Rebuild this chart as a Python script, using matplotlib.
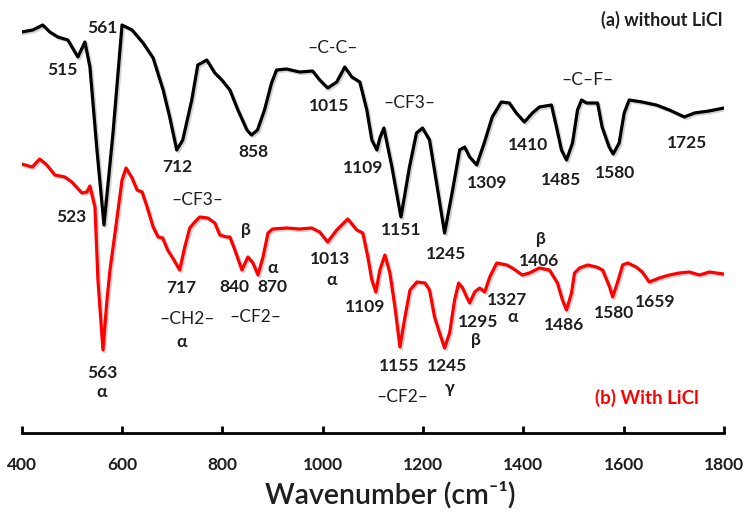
import matplotlib
matplotlib.use("Agg")
import matplotlib.pyplot as plt
import matplotlib.patheffects as pe

plt.rcParams['font.family'] = ['Lato', 'DejaVu Sans']

# wavenumber (cm-1) / transmittance (a.u.)
wn_a = [400, 422, 442, 456, 472, 492, 512, 526, 536, 550, 564, 582, 600, 620, 642,
        662, 682, 695, 709, 721, 739, 751, 769, 785, 799, 815, 831, 849, 858, 870,
        884, 898, 908, 928, 954, 980, 994, 1010, 1028, 1044, 1058, 1074, 1088, 1098,
        1108, 1114, 1122, 1138, 1156, 1173, 1187, 1199, 1213, 1227, 1243, 1259, 1273,
        1283, 1293, 1307, 1322, 1338, 1356, 1372, 1386, 1402, 1418, 1432, 1456, 1466,
        1476, 1486, 1498, 1508, 1516, 1526, 1548, 1557, 1571, 1579, 1591, 1601, 1611,
        1637, 1665, 1691, 1721, 1741, 1770, 1800]
t_a = [401, 403, 408, 401, 396, 393, 376, 391, 366, 283, 208, 300, 408, 403, 390,
       375, 343, 316, 283, 293, 333, 368, 373, 360, 353, 343, 323, 303, 298, 303,
       323, 350, 363, 364, 361, 362, 353, 345, 351, 366, 356, 351, 323, 293,
       283, 295, 305, 266, 216, 266, 300, 305, 293, 250, 200, 243, 283,
       286, 276, 268, 290, 316, 331, 330, 320, 311, 320, 326, 328, 306,
       283, 273, 290, 323, 333, 330, 330, 306, 286, 279, 290, 320, 333,
       331, 328, 323, 316, 320, 322, 325]

wn_b = [400, 421, 436, 450, 466, 486, 500, 520, 530, 536, 546, 552, 562, 570, 576,
        586, 600, 608, 620, 630, 640, 650, 662, 672, 681, 691, 701, 715, 725, 735,
        745, 755, 771, 785, 795, 809, 815, 825, 839, 851, 861, 871, 881, 891, 900,
        928, 954, 978, 994, 1010, 1028, 1050, 1068, 1080, 1090, 1098, 1106, 1114,
        1124, 1134, 1144, 1154, 1164, 1174, 1188, 1204, 1213, 1223, 1233, 1243, 1253,
        1263, 1271, 1279, 1287, 1293, 1303, 1313, 1323, 1333, 1347, 1367, 1378, 1398,
        1412, 1432, 1452, 1468, 1478, 1486, 1496, 1502, 1512, 1528, 1546, 1558, 1572,
        1578, 1588, 1598, 1608, 1625, 1637, 1651, 1671, 1691, 1711, 1731, 1751, 1771,
        1785, 1799]
t_b = [269, 266, 274, 268, 258, 256, 251, 240, 241, 247, 226, 153, 83, 133, 163,
       200, 253, 265, 255, 243, 241, 226, 206, 196, 195, 183, 175, 163, 186, 205,
       211, 216, 215, 210, 198, 196, 196, 183, 163, 176, 170, 158, 176, 200, 204,
       205, 204, 205, 201, 191, 203, 214, 203, 200, 176, 153, 141, 163,
       178, 160, 126, 86, 116, 143, 151, 150, 143, 116, 100, 85, 100,
       133, 150, 145, 136, 130, 141, 145, 141, 156, 170, 168, 165, 158,
       160, 165, 163, 150, 133, 123, 140, 160, 165, 168, 166, 163, 146,
       136, 151, 168, 170, 166, 161, 151, 155, 158, 160, 161, 158, 161,
       160, 159]

xticks = [400, 600, 800, 1000, 1200, 1400, 1600, 1800]

# peak labels: (text, x, y, kind)
labels_a = [
    ("515", 482, 363, "num"), ("561", 560, 405, "num"), ("712", 711, 266, "num"),
    ("858", 861, 281, "num"), ("\u2013C-C\u2013", 1020, 385, "grp"),
    ("1015", 1012, 327, "num"), ("1109", 1080, 265, "num"),
    ("\u2013CF3\u2013", 1173, 330, "grp"), ("1151", 1157, 203, "num"),
    ("1245", 1245, 179, "num"), ("1309", 1328, 250, "num"),
    ("1410", 1410, 288, "num"), ("1485", 1476, 253, "num"),
    ("\u2013C\u2013F\u2013", 1528, 353, "grp"), ("1580", 1583, 260, "num"),
    ("1725", 1727, 290, "num"),
]
labels_b = [
    ("523", 498, 216, "num"), ("\u2013CF3\u2013", 751, 233, "grp"),
    ("\u03b2", 847, 203, "num"), ("717", 719, 145, "num"), ("840", 823, 146, "num"),
    ("870", 899, 146, "num"), ("\u03b1", 901, 165, "num"), ("1013", 1014, 174, "num"),
    ("\u03b1", 1018, 153, "num"), ("\u2013CH2\u2013", 729, 114, "grp"),
    ("\u03b1", 719, 91, "num"), ("\u2013CF2\u2013", 865, 116, "grp"),
    ("563", 560, 60, "num"), ("\u03b1", 560, 41, "num"), ("1109", 1084, 126, "num"),
    ("1155", 1153, 67, "num"), ("1245", 1247, 67, "num"), ("\u03b3", 1253, 45, "num"),
    ("\u2013CF2\u2013", 1159, 36, "grp"), ("1295", 1310, 111, "num"),
    ("\u03b2", 1306, 93, "num"), ("1327", 1368, 133, "num"), ("\u03b1", 1378, 116, "num"),
    ("\u03b2", 1436, 194, "num"), ("1406", 1432, 172, "num"), ("1486", 1482, 108, "num"),
    ("1580", 1581, 120, "num"), ("1659", 1663, 131, "num"),
]

fig = plt.figure(figsize=(7.54, 5.28), dpi=100)
ax = fig.add_axes([21.7 / 754, 95 / 528, (724 - 21.7) / 754, 433 / 528])

shadow = [pe.SimpleLineShadow(offset=(1.2, -1.2), shadow_color='0.5', alpha=0.35), pe.Normal()]
ax.plot(wn_a, t_a, color='black', lw=2.3, solid_joinstyle='round', path_effects=shadow)
ax.plot(wn_b, t_b, color='#ff0000', lw=2.3, solid_joinstyle='round', path_effects=shadow)

for txt, x, y, kind in labels_a + labels_b:
    if kind == "num":
        ax.text(x, y, txt, ha='center', va='center', fontsize=12.5, fontweight='bold', color='#1e1e1e')
    else:
        ax.text(x, y, txt, ha='center', va='center', fontsize=12.5, color='#1e1e1e')

ax.text(1675, 413, "(a) without LiCl", ha='center', va='center', fontsize=13,
        fontweight='bold', color='#1e1e1e')
ax.text(1647, 35, "(b) With LiCl", ha='center', va='center', fontsize=13.5,
        fontweight='bold', color='#ff0000')

ax.set_xlim(400, 1800)
ax.set_ylim(0, 433)
for s in ['left', 'right', 'top']:
    ax.spines[s].set_visible(False)
ax.spines['bottom'].set_linewidth(2)
ax.set_yticks([])
ax.set_xticks(xticks)
ax.set_xticklabels([str(v) for v in xticks])
ax.tick_params(axis='x', direction='in', length=5, width=2, pad=17, labelsize=12.5)
for lab in ax.get_xticklabels():
    lab.set_fontweight('bold')
    lab.set_color('#1e1e1e')

fig.text(390 / 754, 1 - 495 / 528, "Wavenumber (cm\u207b\u00b9)", ha='center', va='center',
         fontsize=20.5, fontweight='semibold', color='#1e1e1e')

fig.savefig("out.png", dpi=100)
